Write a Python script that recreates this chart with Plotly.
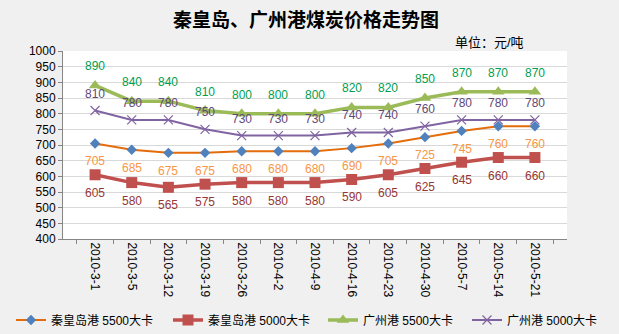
import plotly.graph_objects as go

dates = ["2010-3-1", "2010-3-5", "2010-3-12", "2010-3-19", "2010-3-26", "2010-4-2", "2010-4-9",
         "2010-4-16", "2010-4-23", "2010-4-30", "2010-5-7", "2010-5-14", "2010-5-21"]
qhd5500 = [705, 685, 675, 675, 680, 680, 680, 690, 705, 725, 745, 760, 760]
qhd5000 = [605, 580, 565, 575, 580, 580, 580, 590, 605, 625, 645, 660, 660]
gz5500 = [890, 840, 840, 810, 800, 800, 800, 820, 820, 850, 870, 870, 870]
gz5000 = [810, 780, 780, 750, 730, 730, 730, 740, 740, 760, 780, 780, 780]
names = ["秦皇岛港 5500大卡", "秦皇岛港 5000大卡", "广州港 5500大卡", "广州港 5000大卡"]
y_ticks = list(range(400, 1001, 50))

FONT = "Liberation Sans, Noto Sans CJK SC, sans-serif"

series = [
    dict(y=qhd5500, name=names[0], line=dict(color="#E46C0A", width=2),
         marker=dict(symbol="diamond", size=8, color="#4F81BD"), lab="#F79646", shift=-18),
    dict(y=qhd5000, name=names[1], line=dict(color="#C0504D", width=3.5),
         marker=dict(symbol="square", size=11, color="#C0504D"), lab="#953735", shift=-18),
    dict(y=gz5500, name=names[2], line=dict(color="#9BBB59", width=3.5),
         marker=dict(symbol="triangle-up", size=11, color="#9BBB59"), lab="#00A050", shift=19),
    dict(y=gz5000, name=names[3], line=dict(color="#8064A2", width=2),
         marker=dict(symbol="x-thin-open", size=9, color="#8064A2", line=dict(width=1.2, color="#8064A2")),
         lab="#5F497A", shift=17),
]

# one single-entry legend per series, placed side by side below the axis labels
legend_ids = ["legend", "legend2", "legend3", "legend4"]
legend_left_px = [11, 168, 323, 467]

fig = go.Figure()
annotations = []
for s, lid in zip(series, legend_ids):
    fig.add_trace(go.Scatter(x=dates, y=s["y"], name=s["name"], mode="lines+markers",
                             line=s["line"], marker=s["marker"], legend=lid))
    for d, v in zip(dates, s["y"]):
        annotations.append(dict(x=d, y=v, xref="x", yref="y", text=str(v), showarrow=False,
                                yshift=s["shift"], font=dict(size=12, color=s["lab"], family=FONT)))

# plot area: x 63..567, y 51..239
annotations.append(dict(x=(489 - 63) / 504, y=(239 - 43) / 188, xref="paper", yref="paper",
                        xanchor="center", yanchor="middle", text="单位：元/吨", showarrow=False,
                        font=dict(size=13, color="#000000", family=FONT)))

legend_layouts = {}
for lid, lx in zip(legend_ids, legend_left_px):
    legend_layouts[lid] = dict(orientation="v", xref="container", yref="container",
                               x=lx / 619, xanchor="left", y=14 / 334, yanchor="middle",
                               font=dict(size=12, family=FONT), bgcolor="rgba(0,0,0,0)",
                               itemwidth=30, borderwidth=0)

fig.update_layout(
    width=619, height=334,
    paper_bgcolor="#F0F0F0", plot_bgcolor="#FFFFFF",
    margin=dict(l=63, r=52, t=51, b=95, autoexpand=False),
    title=dict(text="<b>秦皇岛、广州港煤炭价格走势图</b>", xref="container", yref="container",
               x=306 / 619, xanchor="center", y=1 - 20 / 334, yanchor="middle",
               font=dict(size=19, color="#000000", family="Noto Sans CJK SC")),
    font=dict(family=FONT, size=12, color="#000000"),
    showlegend=True,
    annotations=annotations,
    **legend_layouts,
)
fig.update_xaxes(type="category", tickangle=90, ticks="outside", tickson="boundaries", ticklen=4,
                 tickcolor="#868686", showline=True, linecolor="#868686", showgrid=False,
                 tickfont=dict(size=12, family=FONT), automargin=False)
fig.update_yaxes(range=[400, 1000], tickvals=y_ticks, ticks="outside", ticklen=4, tickcolor="#868686",
                 showline=True, linecolor="#868686", gridcolor="#D9D9D9", gridwidth=1,
                 tickfont=dict(size=12, family=FONT), zeroline=False, automargin=False)

fig.write_html("out.html")
